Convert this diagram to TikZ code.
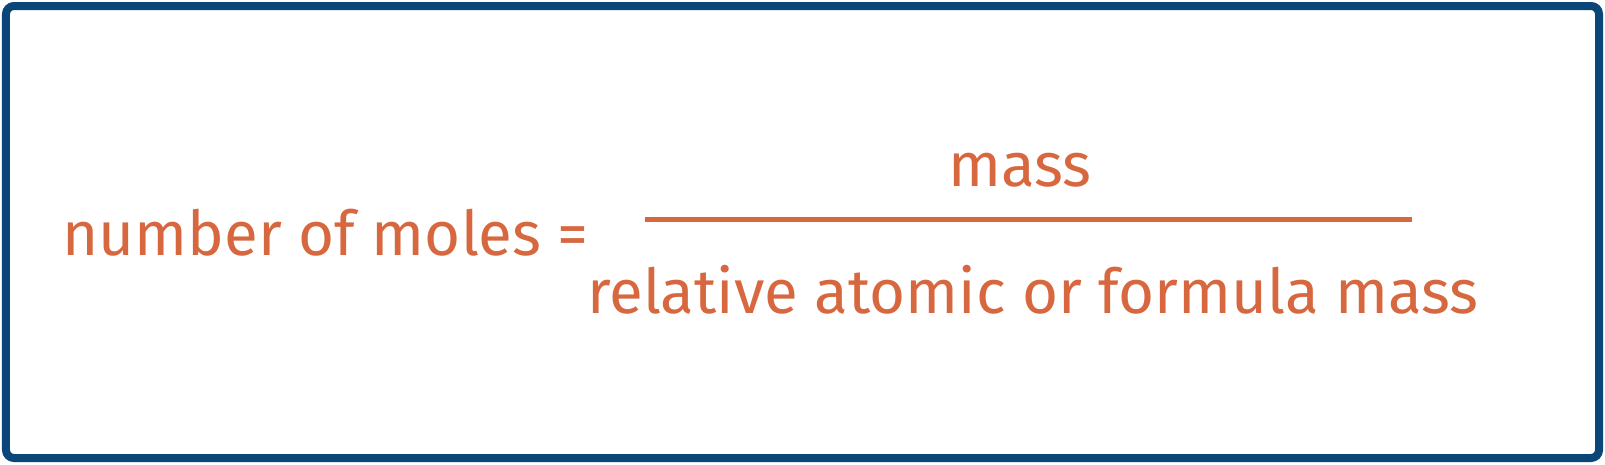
\documentclass[tikz,border=0pt]{standalone}
\usepackage{fontspec}
\setmainfont{Fira Sans}
\usepackage{tikz}
\usetikzlibrary{positioning}
\definecolor{frameblue}{HTML}{0B4679}
\definecolor{moleorange}{HTML}{D7673F}
\tikzset{
  txt/.style={text=moleorange,font=\fontsize{17.6}{21}\selectfont,inner sep=0pt},
}
\begin{document}
\begin{tikzpicture}
        \useasboundingbox (0,0) rectangle (16.05,4.64);
        \draw[frameblue,line width=0.08cm,rounded corners=0.08cm] (0.06,0.06) rectangle (15.99,4.58);

        \coordinate (barL) at (6.45,2.45);
        \coordinate (barR) at (14.12,2.45);
        \draw[moleorange,line width=0.05cm] (barL) -- (barR);

        \node[txt] (num) at (10.2,2.94) {mass};
        \node[txt] (den) at (10.33,1.74) {relative atomic or formula mass};

        \node[txt,anchor=west] (lhs) at (0.62,2.31) {number of moles =};
\end{tikzpicture}
\end{document}
